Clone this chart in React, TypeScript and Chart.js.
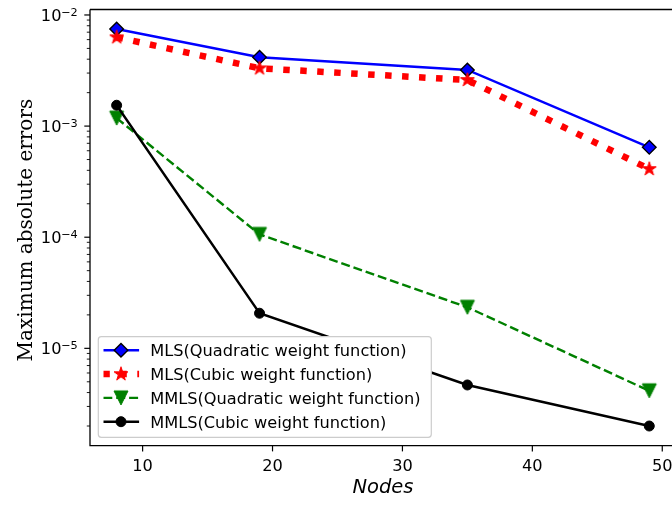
import React, { useEffect, useRef } from "react";
import { Chart, registerables } from "chart.js";

Chart.register(...registerables);

// ---------- data ----------
const nodes = [8, 19, 35, 49];
const mlsQuadratic = [7.48e-3, 4.16e-3, 3.2e-3, 6.44e-4];
const mlsCubic = [6.3e-3, 3.31e-3, 2.6e-3, 4.11e-4];
const mmlsQuadratic = [1.18e-3, 1.06e-4, 2.34e-5, 4.15e-6];
const mmlsCubic = [1.54e-3, 2.07e-5, 4.68e-6, 2.0e-6];
const seriesLabels = [
  "MLS(Quadratic weight function)",
  "MLS(Cubic weight function)",
  "MMLS(Quadratic weight function)",
  "MMLS(Cubic weight function)",
];
const xTickValues = [10, 20, 30, 40, 50];
const yDecadeExponents = [-2, -3, -4, -5];
const xTitle = "Nodes";
const yTitle = "Maximum absolute errors";

const FONT = "'DejaVu Sans', sans-serif";
const SERIF = "'DejaVu Serif', serif";
const TICK_PX = 16.2;

function makeStar(color: string): HTMLCanvasElement {
  const c = document.createElement("canvas");
  c.width = 18;
  c.height = 18;
  const ctx = c.getContext("2d")!;
  const cx = 9, cy = 9, R = 7.3, r = R * 0.381966;
  ctx.beginPath();
  for (let i = 0; i < 10; i++) {
    const a = -Math.PI / 2 + (i * Math.PI) / 5;
    const rad = i % 2 === 0 ? R : r;
    const px = cx + rad * Math.cos(a);
    const py = cy + rad * Math.sin(a);
    if (i === 0) ctx.moveTo(px, py);
    else ctx.lineTo(px, py);
  }
  ctx.closePath();
  ctx.fillStyle = color;
  ctx.fill();
  ctx.lineWidth = 1;
  ctx.strokeStyle = color;
  ctx.stroke();
  return c;
}

function makeTriDown(color: string): HTMLCanvasElement {
  const c = document.createElement("canvas");
  c.width = 18;
  c.height = 18;
  const ctx = c.getContext("2d")!;
  ctx.beginPath();
  ctx.moveTo(9, 16);
  ctx.lineTo(2, 2);
  ctx.lineTo(16, 2);
  ctx.closePath();
  ctx.fillStyle = color;
  ctx.fill();
  ctx.lineWidth = 1;
  ctx.strokeStyle = color;
  ctx.stroke();
  return c;
}

export default function App() {
  const canvasRef = useRef<HTMLCanvasElement | null>(null);

  useEffect(() => {
    const canvas = canvasRef.current;
    if (!canvas) return;
    const star = makeStar("#ff0000");
    const tri = makeTriDown("#008000");

    const mk = (vals: number[]) => nodes.map((x, i) => ({ x, y: vals[i] }));

    const legendStyles = [
      { color: "#0000ff", width: 2.4, dash: [] as number[], marker: "diamond" },
      { color: "#ff0000", width: 6.5, dash: [6.5, 10.5], marker: "star" },
      { color: "#008000", width: 2.4, dash: [9, 3.9], marker: "tri" },
      { color: "#000000", width: 2.4, dash: [] as number[], marker: "circle" },
    ];

    const framePlugin = {
      id: "mplFrame",
      afterDatasetsDraw(chart: any) {
        const ctx: CanvasRenderingContext2D = chart.ctx;
        const area = chart.chartArea;
        const xs = chart.scales.x;
        const ys = chart.scales.y;
        ctx.save();
        ctx.strokeStyle = "#000";
        ctx.fillStyle = "#000";
        ctx.lineWidth = 1.3;
        // spines (right spine lies outside the picture)
        ctx.beginPath();
        ctx.moveTo(area.left, area.top);
        ctx.lineTo(area.right + 5, area.top);
        ctx.moveTo(area.left, area.top);
        ctx.lineTo(area.left, area.bottom);
        ctx.lineTo(area.right + 5, area.bottom);
        ctx.stroke();

        // x ticks
        ctx.lineWidth = 1.2;
        ctx.font = `${TICK_PX}px ${FONT}`;
        ctx.textAlign = "center";
        ctx.textBaseline = "alphabetic";
        for (const v of xTickValues) {
          const px = xs.getPixelForValue(v);
          ctx.beginPath();
          ctx.moveTo(px, area.bottom);
          ctx.lineTo(px, area.bottom + 5.7);
          ctx.stroke();
          ctx.fillText(String(v), px, area.bottom + 25.3);
        }

        // y ticks (major + minor)
        const yMin = ys.min, yMax = ys.max;
        for (let e = -7; e <= -1; e++) {
          for (let m = 1; m <= 9; m++) {
            const v = m * Math.pow(10, e);
            if (v < yMin || v > yMax) continue;
            const py = ys.getPixelForValue(v);
            ctx.beginPath();
            ctx.lineWidth = m === 1 ? 1.2 : 0.9;
            ctx.moveTo(area.left, py);
            ctx.lineTo(area.left - (m === 1 ? 5.7 : 3.2), py);
            ctx.stroke();
          }
        }
        for (const e of yDecadeExponents) {
          const py = ys.getPixelForValue(Math.pow(10, e));
          const sup = "\u2212" + String(-e);
          ctx.font = `11.3px ${FONT}`;
          const supW = ctx.measureText(sup).width;
          ctx.textAlign = "right";
          const right = 77.8;
          ctx.fillText(sup, right, py + 0.8);
          ctx.font = `${TICK_PX}px ${FONT}`;
          ctx.fillText("10", right - supW + 0.3, py + 6);
        }

        // axis titles
        ctx.font = `italic 19.5px ${FONT}`;
        ctx.textAlign = "center";
        ctx.fillText(xTitle, (area.left + 676) / 2, 493);

        ctx.save();
        ctx.translate(32, (area.top + area.bottom) / 2 + 2.5);
        ctx.rotate(-Math.PI / 2);
        ctx.font = `20px ${SERIF}`;
        ctx.textAlign = "center";
        ctx.fillText(yTitle, 0, 0);
        ctx.restore();

        // legend
        const bx = 98.3, by = 336.7, bw = 333, bh = 100.6, r = 3;
        ctx.beginPath();
        ctx.moveTo(bx + r, by);
        ctx.lineTo(bx + bw - r, by);
        ctx.quadraticCurveTo(bx + bw, by, bx + bw, by + r);
        ctx.lineTo(bx + bw, by + bh - r);
        ctx.quadraticCurveTo(bx + bw, by + bh, bx + bw - r, by + bh);
        ctx.lineTo(bx + r, by + bh);
        ctx.quadraticCurveTo(bx, by + bh, bx, by + bh - r);
        ctx.lineTo(bx, by + r);
        ctx.quadraticCurveTo(bx, by, bx + r, by);
        ctx.closePath();
        ctx.fillStyle = "#ffffff";
        ctx.fill();
        ctx.strokeStyle = "#cccccc";
        ctx.lineWidth = 1.2;
        ctx.stroke();

        legendStyles.forEach((s, i) => {
          const cy = 350.3 + i * 23.8;
          ctx.save();
          ctx.beginPath();
          ctx.rect(103.3, cy - 10, 36, 20);
          ctx.clip();
          ctx.beginPath();
          ctx.strokeStyle = s.color;
          ctx.lineWidth = s.width;
          ctx.lineCap = "butt";
          ctx.setLineDash(s.dash);
          ctx.moveTo(103.3, cy);
          ctx.lineTo(139.3, cy);
          ctx.stroke();
          ctx.restore();
          ctx.setLineDash([]);
          const mx = 121;
          if (s.marker === "diamond") {
            ctx.beginPath();
            ctx.moveTo(mx - 6.8, cy);
            ctx.lineTo(mx, cy - 6.8);
            ctx.lineTo(mx + 6.8, cy);
            ctx.lineTo(mx, cy + 6.8);
            ctx.closePath();
            ctx.fillStyle = "#0000ff";
            ctx.fill();
            ctx.strokeStyle = "#000";
            ctx.lineWidth = 1.4;
            ctx.stroke();
          } else if (s.marker === "star") {
            ctx.drawImage(star, mx - 9, cy - 9);
          } else if (s.marker === "tri") {
            ctx.drawImage(tri, mx - 9, cy - 9);
          } else {
            ctx.beginPath();
            ctx.arc(mx, cy, 5, 0, Math.PI * 2);
            ctx.fillStyle = "#000";
            ctx.fill();
            ctx.strokeStyle = "#000";
            ctx.lineWidth = 1;
            ctx.stroke();
          }
          ctx.fillStyle = "#000";
          ctx.font = `${TICK_PX}px ${FONT}`;
          ctx.textAlign = "left";
          ctx.textBaseline = "alphabetic";
          ctx.fillText(seriesLabels[i], 150.2, cy + 6);
        });

        ctx.restore();
      },
    };

    const chart = new Chart(canvas, {
      type: "line",
      data: {
        datasets: [
          {
            label: seriesLabels[0],
            data: mk(mlsQuadratic),
            borderColor: "#0000ff",
            borderWidth: 2.4,
            pointStyle: "rectRot",
            pointRadius: 6.8,
            pointBackgroundColor: "#0000ff",
            pointBorderColor: "#000000",
            pointBorderWidth: 1.4,
            order: 3,
          },
          {
            label: seriesLabels[1],
            data: mk(mlsCubic),
            borderColor: "#ff0000",
            borderWidth: 6.5,
            borderDash: [6.5, 10.5],
            borderCapStyle: "butt",
            pointStyle: star as any,
            pointRadius: 7,
            pointBackgroundColor: "#ff0000",
            pointBorderColor: "#ff0000",
            order: 2,
          },
          {
            label: seriesLabels[2],
            data: mk(mmlsQuadratic),
            borderColor: "#008000",
            borderWidth: 2.4,
            borderDash: [9, 3.9],
            borderCapStyle: "butt",
            pointStyle: tri as any,
            pointRadius: 7,
            pointBackgroundColor: "#008000",
            pointBorderColor: "#008000",
            order: 1,
          },
          {
            label: seriesLabels[3],
            data: mk(mmlsCubic),
            borderColor: "#000000",
            borderWidth: 2.4,
            pointStyle: "circle",
            pointRadius: 5,
            pointBackgroundColor: "#000000",
            pointBorderColor: "#000000",
            pointBorderWidth: 1,
            order: 0,
          },
        ],
      },
      options: {
        responsive: false,
        animation: false,
        devicePixelRatio: 1,
        layout: { autoPadding: false, padding: { left: 90, top: 9.5, right: 0, bottom: 59.3 } },
        elements: { line: { tension: 0 } },
        plugins: {
          legend: { display: false },
          tooltip: { enabled: false },
        },
        scales: {
          x: { type: "linear", min: 5.95, max: 50.75, display: false },
          y: { type: "logarithmic", min: 1.33e-6, max: 1.12e-2, display: false },
        },
      },
      plugins: [framePlugin],
    });

    return () => chart.destroy();
  }, []);

  return (
    <div style={{ position: "absolute", left: 0, top: 0, width: 672, height: 505, background: "#fff" }}>
      <canvas ref={canvasRef} width={672} height={505} style={{ display: "block" }} />
    </div>
  );
}
